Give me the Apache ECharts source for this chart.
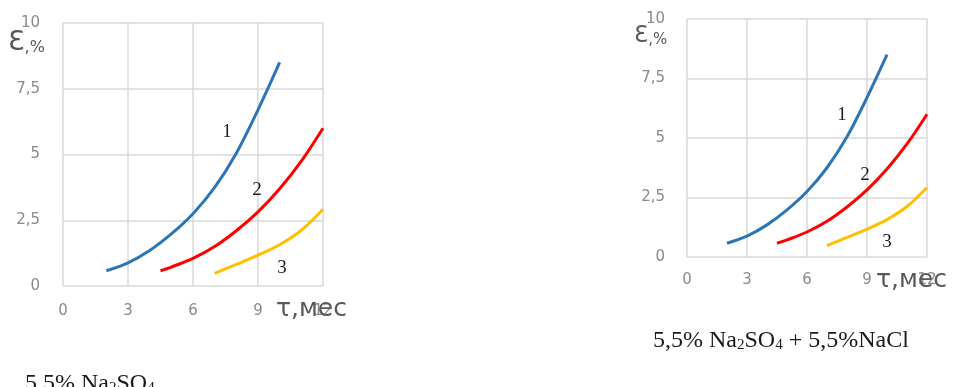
<!DOCTYPE html>
<html>
<head>
<meta charset="utf-8">
<script src="https://cdn.jsdelivr.net/npm/echarts@6/dist/echarts.min.js"></script>
<style>
  html, body { margin: 0; padding: 0; background: #ffffff; }
  #chart { width: 955px; height: 387px; }
</style>
</head>
<body>
<div id="chart"></div>
<script>
// Deformation ε (%) versus exposure time τ (months), three specimens per medium
const tauCurve1 = [2, 3, 4, 5, 6, 7, 8, 9, 10];
const epsCurve1 = [0.58, 0.88, 1.35, 1.98, 2.75, 3.75, 5.05, 6.7, 8.5];

const tauCurve2 = [4.5, 5, 6, 7, 8, 9, 10, 11, 12];
const epsCurve2 = [0.58, 0.72, 1.05, 1.5, 2.1, 2.82, 3.7, 4.75, 6.0];

const tauCurve3 = [7, 8, 9, 10, 11, 12];
const epsCurve3 = [0.48, 0.82, 1.17, 1.57, 2.12, 2.92];

const curveNames = ['1', '2', '3'];
const curveColors = ['#2e75b6', '#ff0000', '#ffc000'];

const xTicks = [0, 3, 6, 9, 12];
const yTicks = [0, 2.5, 5, 7.5, 10];

const panelCaptions = [
  ['5,5% Na', '2', 'SO', '4', ''],
  ['5,5% Na', '2', 'SO', '4', ' + 5,5%NaCl']
];

const curves = [
  [tauCurve1, epsCurve1],
  [tauCurve2, epsCurve2],
  [tauCurve3, epsCurve3]
];

const chart = echarts.init(document.getElementById('chart'), null, { renderer: 'canvas' });

const tickFont = 'DejaVu Sans';
const gridColor = '#d9d9d9';

const panels = [
  { left: 63, top: 23, width: 260, height: 263, xMargin: 18, yMargin: 23 },
  { left: 687, top: 19, width: 240, height: 238, xMargin: 16, yMargin: 22 }
];

const grids = panels.map(p => ({ left: p.left, top: p.top, width: p.width, height: p.height }));

const xAxes = panels.map((p, i) => ({
  type: 'value', gridIndex: i,
  min: xTicks[0], max: xTicks[xTicks.length - 1], interval: 3,
  axisLine: { show: false }, axisTick: { show: false },
  splitLine: { show: true, lineStyle: { color: gridColor, width: 1.5 } },
  axisLabel: { margin: p.xMargin, color: '#8a8a8a', fontFamily: tickFont, fontSize: 15 }
}));

const yAxes = panels.map((p, i) => ({
  type: 'value', gridIndex: i,
  min: yTicks[0], max: yTicks[yTicks.length - 1], interval: 2.5,
  axisLine: { show: false }, axisTick: { show: false },
  splitLine: { show: true, lineStyle: { color: gridColor, width: 1.5 } },
  axisLabel: {
    margin: p.yMargin, color: '#8a8a8a', fontFamily: tickFont, fontSize: 15,
    formatter: v => String(v).replace('.', ',')
  }
}));

const series = [];
panels.forEach((p, i) => {
  curves.forEach((c, k) => {
    series.push({
      name: curveNames[k], type: 'line', xAxisIndex: i, yAxisIndex: i,
      data: c[0].map((t, j) => [t, c[1][j]]),
      smooth: 0.35, symbol: 'none', silent: true,
      lineStyle: { color: curveColors[k], width: 3 }
    });
  });
});

// Text overlays: axis titles, curve numbers, captions
const serif = 'Liberation Serif';
function epsTitle(x, y, big, small) {
  return {
    type: 'text', x: x, y: y, z: 10,
    style: {
      text: '{e|Ɛ}{p|,%}', verticalAlign: 'top', align: 'left',
      rich: {
        e: { fontFamily: 'DejaVu Sans', fontSize: big, lineHeight: big, fill: '#595959', verticalAlign: 'bottom' },
        p: { fontFamily: 'DejaVu Sans', fontSize: small, lineHeight: small, fill: '#595959', verticalAlign: 'bottom' }
      }
    }
  };
}
function tauTitle(x, y) {
  return {
    type: 'text', x: x, y: y, z: 10,
    style: { text: 'τ,мес', font: '25px "DejaVu Sans"', fill: '#595959', verticalAlign: 'middle', align: 'left' }
  };
}
function curveNumber(x, y, label) {
  return {
    type: 'text', x: x, y: y, z: 10,
    style: { text: label, font: '19px "Liberation Serif"', fill: '#1e1a20', align: 'center', verticalAlign: 'middle' }
  };
}
function caption(x, y, parts, align) {
  return {
    type: 'text', x: x, y: y, z: 10,
    style: {
      text: '{m|' + parts[0] + '}{s|' + parts[1] + '}{m|' + parts[2] + '}{s|' + parts[3] + '}' + (parts[4] ? '{m|' + parts[4] + '}' : ''),
      align: align, verticalAlign: 'middle',
      rich: {
        m: { fontFamily: serif, fontSize: 24, lineHeight: 26, fill: '#1a1a1a', verticalAlign: 'bottom' },
        s: { fontFamily: serif, fontSize: 15, lineHeight: 13, fill: '#1a1a1a', verticalAlign: 'bottom' }
      }
    }
  };
}

const graphics = [
  epsTitle(8, 29, 27, 16),
  epsTitle(634, 25, 23, 15),
  tauTitle(276, 309),
  tauTitle(876, 280),
  curveNumber(227, 132, curveNames[0]),
  curveNumber(257, 190, curveNames[1]),
  curveNumber(282, 268, curveNames[2]),
  curveNumber(842, 115, curveNames[0]),
  curveNumber(865, 175, curveNames[1]),
  curveNumber(887, 242, curveNames[2]),
  caption(25, 383, panelCaptions[0], 'left'),
  caption(653, 340, panelCaptions[1], 'left')
];

chart.setOption({
  backgroundColor: '#ffffff',
  animation: false,
  grid: grids,
  xAxis: xAxes,
  yAxis: yAxes,
  series: series,
  graphic: graphics
});
</script>
</body>
</html>
